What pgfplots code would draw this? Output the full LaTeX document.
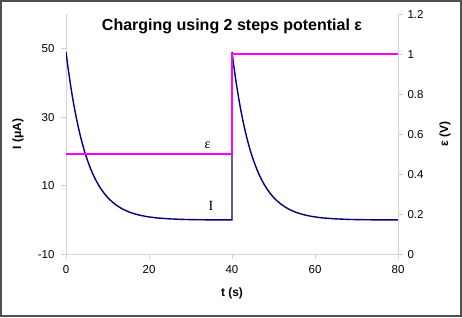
\documentclass[border=0pt]{standalone}
\usepackage{fontspec}
\setmainfont{Liberation Sans}
\newfontfamily\seriffont{Liberation Serif}
\usepackage{pgfplots}
\pgfplotsset{compat=1.18}
\definecolor{axisgray}{RGB}{210,210,210}
\definecolor{navyline}{RGB}{0,0,128}
\definecolor{magline}{RGB}{255,0,255}
\definecolor{framegray}{RGB}{80,80,80}
\pgfplotstableread{
t I
0 49.00
0.5 44.34
1 40.12
1.5 36.30
2 32.85
2.5 29.72
3 26.89
3.5 24.33
4 22.02
4.5 19.92
5 18.03
5.5 16.31
6 14.76
6.5 13.35
7 12.08
7.5 10.93
8 9.89
8.5 8.95
9 8.10
9.5 7.33
10 6.63
11 5.43
12 4.45
13 3.64
14 2.98
15 2.44
16 2.00
17 1.64
18 1.34
19 1.10
20 0.90
22 0.60
25 0.33
28 0.18
30 0.12
35 0.04
40 0.02
40 49.00
40.5 44.34
41 40.12
41.5 36.30
42 32.85
42.5 29.72
43 26.89
43.5 24.33
44 22.02
44.5 19.92
45 18.03
45.5 16.31
46 14.76
46.5 13.35
47 12.08
47.5 10.93
48 9.89
48.5 8.95
49 8.10
49.5 7.33
50 6.63
51 5.43
52 4.45
53 3.64
54 2.98
55 2.44
56 2.00
57 1.64
58 1.34
59 1.10
60 0.90
62 0.60
65 0.33
68 0.18
70 0.12
75 0.04
80 0.02
}\currenttable
\pgfplotstableread{
t E
0 0.5
40 0.5
40 1
80 1
}\potentialtable
\begin{document}
\begin{tikzpicture}
\pgfplotsset{
  common/.style={
    at={(66pt,62.7pt)}, anchor=south west,
    scale only axis, width=332pt, height=240pt,
    xmin=0, xmax=80,
    axis line style={-, draw=axisgray, line width=0.8pt},
    tick align=outside, major tick length=5pt,
    tick style={draw=axisgray, line width=0.8pt},
    tick label style={font=\fontsize{11.5}{13}\selectfont, text=black},
    /pgf/number format/assume math mode=true,
    label style={font=\fontsize{12}{14}\selectfont\bfseries},
  }
}
\begin{axis}[common,
  ymin=-10, ymax=60,
  xtick={0,20,40,60,80}, ytick={-10,10,30,50},
  axis x line*=bottom, axis y line*=left,
  xlabel={t (s)},
  xlabel style={at={(axis description cs:0.5,-0.17375)}, anchor=base},
  ylabel={I (μA)},
  ylabel style={at={(axis description cs:-0.1446,0.5)}, anchor=center},
  yticklabel style={xshift=-3pt},
  xticklabel style={yshift=-3pt},
]
\addplot[navyline, line width=1.4pt] table[x=t, y=I] {\currenttable};
\node[font=\seriffont\fontsize{14}{16}\selectfont, anchor=center] at (axis cs:34.9,4) {I};
\node[font=\fontsize{16}{18}\selectfont\bfseries, anchor=base] at (axis description cs:0.5,0.9346) {Charging using 2 steps potential ε};
\end{axis}
\begin{axis}[common,
  ymin=0, ymax=1.2,
  ytick={0,0.2,0.4,0.6,0.8,1,1.2},
  axis x line=none, axis y line*=right,
  ylabel={ε (V)},
  ylabel style={at={(axis description cs:1.1416,0.5)}, anchor=center, rotate=0},
  yticklabel style={xshift=1pt},
]
\addplot[magline, line width=1.8pt] table[x=t, y=E] {\potentialtable};
\node[font=\seriffont\fontsize{14}{16}\selectfont, anchor=center] at (axis cs:34.1,0.543) {ε};
\end{axis}
\draw[framegray, line width=2pt] (1pt,1pt) rectangle (461pt,316pt);
\pgfresetboundingbox
\path (0,0) rectangle (462pt,317pt);
\end{tikzpicture}
\end{document}
